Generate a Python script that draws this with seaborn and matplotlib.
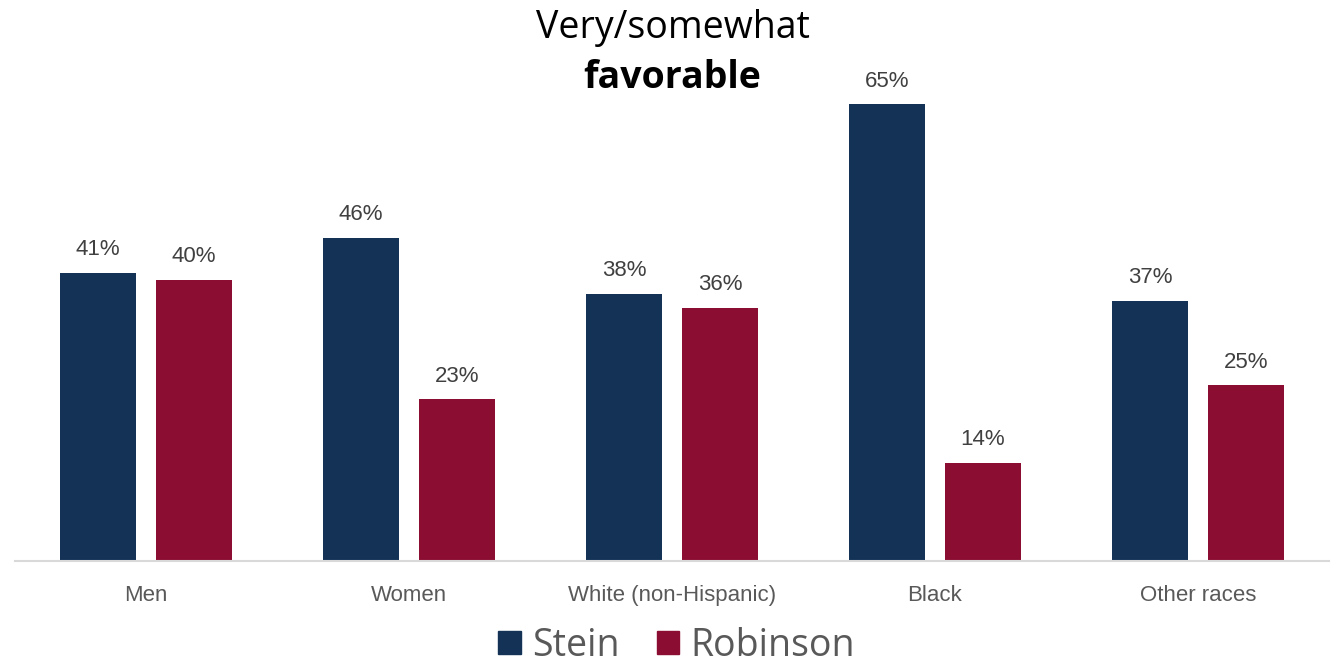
import seaborn as sns
import matplotlib.pyplot as plt
import pandas as pd

sns.set_style('white')
plt.rcParams['font.family'] = ['Open Sans', 'DejaVu Sans']

groups = ['Men', 'Women', 'White (non-Hispanic)', 'Black', 'Other races']
stein = [41, 46, 38, 65, 37]
robinson = [40, 23, 36, 14, 25]
series = ['Stein', 'Robinson']
colors = ['#133256', '#8B0E32']

data = pd.DataFrame({
    'group': groups * 2,
    'candidate': ['Stein'] * len(groups) + ['Robinson'] * len(groups),
    'value': stein + robinson,
})

fig = plt.figure(figsize=(13.32, 6.67), dpi=100)
ax = fig.add_axes([0.011, 0.159, 0.987, 0.841])

sns.barplot(data=data, x='group', y='value', hue='candidate', hue_order=series,
            palette=colors, width=0.73, gap=0.208, saturation=1,
            linewidth=0, legend=False, ax=ax)

for container in ax.containers:
    ax.bar_label(container, fmt='%d%%', padding=9, fontsize=16,
                 color='#404040', family='Liberation Sans')

ax.set_ylim(0, 79.8)
ax.set_xlim(-0.5, 4.5)
ax.set_xlabel('')
ax.set_ylabel('')
ax.set_yticks([])
ax.tick_params(axis='x', length=0, pad=17, labelsize=16, labelcolor='#595959')
for lbl in ax.get_xticklabels():
    lbl.set_family('Liberation Sans')
for side in ['top', 'right', 'left']:
    ax.spines[side].set_visible(False)
ax.spines['bottom'].set_color('#d9d9d9')
ax.spines['bottom'].set_linewidth(1.5)

fig.text(0.505, 0.958, 'Very/somewhat', ha='center', va='center',
         fontsize=27, color='black')
fig.text(0.505, 0.883, 'favorable', ha='center', va='center',
         fontsize=27, fontweight='bold', color='black')

handles = [plt.Rectangle((0, 0), 1, 1, color=c) for c in colors]
fig.legend(handles, series, loc='center', bbox_to_anchor=(0.508, 0.032),
           ncol=2, frameon=False, fontsize=27, labelcolor='#595959',
           handlelength=0.6, handleheight=0.6, handletextpad=0.3,
           columnspacing=1.0, borderpad=0.1)

fig.savefig('out.png', dpi=100)
